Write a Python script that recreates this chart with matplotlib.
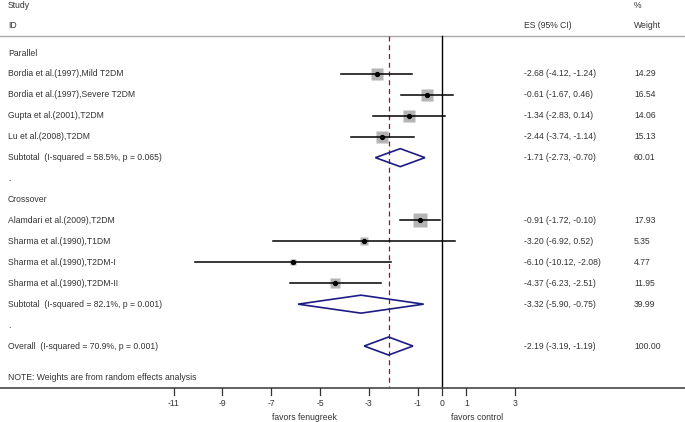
import numpy as np
import matplotlib
matplotlib.use("Agg")
from matplotlib import pyplot as plt
from matplotlib.patches import Polygon

plt.rcParams['font.family'] = ['Liberation Sans', 'DejaVu Sans']

# ---- data ----
study_labels = ["Bordia et al.(1997),Mild T2DM", "Bordia et al.(1997),Severe T2DM",
                "Gupta et al.(2001),T2DM", "Lu et al.(2008),T2DM",
                "Alamdari et al.(2009),T2DM", "Sharma et al.(1990),T1DM",
                "Sharma et al.(1990),T2DM-I", "Sharma et al.(1990),T2DM-II"]
study_es = [-2.68, -0.61, -1.34, -2.44, -0.91, -3.20, -6.10, -4.37]
study_lo = [-4.12, -1.67, -2.83, -3.74, -1.72, -6.92, -10.12, -6.23]
study_hi = [-1.24, 0.46, 0.14, -1.14, -0.10, 0.52, -2.08, -2.51]
study_weight = [14.29, 16.54, 14.06, 15.13, 17.93, 5.35, 4.77, 11.95]

group_names = ["Parallel", "Crossover"]
group_sizes = [4, 4]
sub_labels = ["Subtotal  (I-squared = 58.5%, p = 0.065)",
              "Subtotal  (I-squared = 82.1%, p = 0.001)"]
sub_es = [-1.71, -3.32]
sub_lo = [-2.73, -5.90]
sub_hi = [-0.70, -0.75]
sub_weight = [60.01, 39.99]

overall_label = "Overall  (I-squared = 70.9%, p = 0.001)"
overall_es, overall_lo, overall_hi, overall_weight = -2.19, -3.19, -1.19, 100.00

xticks = [-11, -9, -7, -5, -3, -1, 0, 1, 3]

# ---- layout (pixel based) ----
W, H = 685, 422
ZERO_PX = 442.0
PX_PER_UNIT = 24.4
ROW0 = 53.0
ROW_STEP = 20.93
AXIS_Y = 388.0
HEADER_Y = 36.0


def px2x(px):
    return (px - ZERO_PX) / PX_PER_UNIT


fig = plt.figure(figsize=(W / 100, H / 100), dpi=100)
ax = fig.add_axes([0, 0, 1, 1])
ax.set_xlim(px2x(0), px2x(W))
ax.set_ylim(H, 0)
ax.axis('off')

txt = dict(fontsize=6.2, color='#333333', va='center')
x_lab = px2x(8)
x_es = px2x(524)
x_w = px2x(634)

# header
ax.text(x_lab, 5, "Study", **txt)
ax.text(x_lab, 25, "ID", **txt)
ax.text(x_es, 25, "ES (95% CI)", **txt)
ax.text(x_w, 5, "%", **txt)
ax.text(x_w, 25, "Weight", **txt)
ax.plot([px2x(0), px2x(W)], [HEADER_Y, HEADER_Y], color='#a8a8a8', lw=1.0)

# reference lines
ax.plot([0, 0], [HEADER_Y, AXIS_Y], color='black', lw=1.0)
ax.plot([overall_es, overall_es], [HEADER_Y, AXIS_Y], color='#8b1c1c',
        lw=0.9, ls=(0, (4, 3)))

HALF_D = 9.0


def diamond(es, lo, hi, y):
    ax.add_patch(Polygon([[lo, y], [es, y - HALF_D], [hi, y], [es, y + HALF_D]],
                         closed=True, fill=False, edgecolor='#1c1c84', lw=1.2,
                         zorder=3))


def fmt_ci(es, lo, hi):
    return f"{es:.2f} ({lo:.2f}, {hi:.2f})"


row = 0
k = 0
for g, name in enumerate(group_names):
    ax.text(x_lab, ROW0 + row * ROW_STEP, name, **txt)
    row += 1
    for _ in range(group_sizes[g]):
        y = ROW0 + row * ROW_STEP
        ax.text(x_lab, y, study_labels[k], **txt)
        ax.plot([study_lo[k], study_hi[k]], [y, y], color='black', lw=1.1, zorder=2)
        ax.plot(study_es[k], y, marker='s', ms=2.25 * np.sqrt(study_weight[k]),
                color='#b4b4b4', mec='none', zorder=1)
        ax.plot(study_es[k], y, marker='o', ms=2.8, color='black', zorder=3)
        ax.text(x_es, y, fmt_ci(study_es[k], study_lo[k], study_hi[k]), **txt)
        ax.text(x_w, y, f"{study_weight[k]:.2f}", **txt)
        row += 1
        k += 1
    y = ROW0 + row * ROW_STEP
    ax.text(x_lab, y, sub_labels[g], **txt)
    diamond(sub_es[g], sub_lo[g], sub_hi[g], y)
    ax.text(x_es, y, fmt_ci(sub_es[g], sub_lo[g], sub_hi[g]), **txt)
    ax.text(x_w, y, f"{sub_weight[g]:.2f}", **txt)
    row += 1
    ax.text(x_lab, ROW0 + row * ROW_STEP, ".", **txt)
    row += 1

y = ROW0 + row * ROW_STEP
ax.text(x_lab, y, overall_label, **txt)
diamond(overall_es, overall_lo, overall_hi, y)
ax.text(x_es, y, fmt_ci(overall_es, overall_lo, overall_hi), **txt)
ax.text(x_w, y, f"{overall_weight:.2f}", **txt)

ax.text(x_lab, 378, "NOTE: Weights are from random effects analysis", **txt)

# bottom axis
ctxt = dict(fontsize=6.2, color='#333333', va='center', ha='center')
ax.plot([px2x(0), px2x(W)], [AXIS_Y, AXIS_Y], color='#555555', lw=1.3)
for t in xticks:
    ax.plot([t, t], [AXIS_Y, AXIS_Y + 7], color='#333333', lw=0.9)
    ax.text(t, 403, f"{t}", **ctxt)
ax.text(px2x(304), 418, "favors fenugreek", **ctxt)
ax.text(px2x(477), 418, "favors control", **ctxt)

fig.savefig("out.png", dpi=100)
